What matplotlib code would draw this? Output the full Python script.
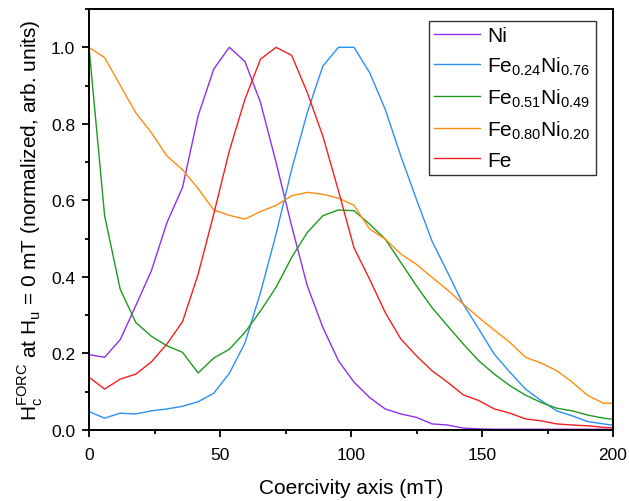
import numpy as np
import matplotlib
matplotlib.use("Agg")
import matplotlib.pyplot as plt
from matplotlib.ticker import MultipleLocator

plt.rcParams['font.family'] = ['Liberation Sans', 'DejaVu Sans']
plt.rcParams['mathtext.fontset'] = 'custom'
plt.rcParams['mathtext.rm'] = 'Liberation Sans'

# coercivity grid (mT)
field = np.round(np.arange(35) * 5.95, 2)

ni = [0.197, 0.19, 0.236, 0.325, 0.416, 0.542, 0.634, 0.821, 0.943, 1.0,
      0.963, 0.856, 0.699, 0.533, 0.377, 0.268, 0.181, 0.125, 0.085, 0.055,
      0.042, 0.033, 0.016, 0.013, 0.005, 0.003, 0.002, 0.002, 0.002, 0.002,
      0.002, 0.002, 0.002, 0.002, 0.002]
fe24 = [0.048, 0.031, 0.044, 0.042, 0.050, 0.055, 0.062, 0.074, 0.096, 0.148,
        0.227, 0.359, 0.512, 0.681, 0.829, 0.951, 1.0, 1.0, 0.934, 0.838,
        0.716, 0.603, 0.494, 0.412, 0.329, 0.264, 0.198, 0.151, 0.107, 0.077,
        0.050, 0.037, 0.022, 0.016, 0.010]
fe51 = [1.0, 0.560, 0.368, 0.281, 0.245, 0.220, 0.203, 0.149, 0.188, 0.211,
        0.255, 0.311, 0.373, 0.451, 0.516, 0.560, 0.575, 0.573, 0.538, 0.499,
        0.438, 0.377, 0.320, 0.272, 0.225, 0.181, 0.146, 0.116, 0.091, 0.072,
        0.057, 0.050, 0.039, 0.031, 0.026]
fe80 = [1.0, 0.973, 0.901, 0.829, 0.777, 0.716, 0.680, 0.631, 0.575, 0.561,
        0.551, 0.571, 0.587, 0.612, 0.621, 0.616, 0.606, 0.587, 0.525, 0.499,
        0.460, 0.433, 0.399, 0.366, 0.329, 0.294, 0.261, 0.229, 0.190, 0.175,
        0.155, 0.125, 0.090, 0.070, 0.070]
fe = [0.138, 0.107, 0.133, 0.146, 0.178, 0.225, 0.283, 0.407, 0.564, 0.729,
      0.864, 0.969, 1.0, 0.979, 0.882, 0.768, 0.625, 0.476, 0.394, 0.307,
      0.238, 0.194, 0.155, 0.125, 0.092, 0.077, 0.055, 0.044, 0.029, 0.024,
      0.016, 0.013, 0.011, 0.007, 0.005]

series = [
    (ni, 'Ni', '#8f2ff0'),
    (fe24, r'Fe$_\mathregular{0.24}$Ni$_\mathregular{0.76}$', '#2c8ff5'),
    (fe51, r'Fe$_\mathregular{0.51}$Ni$_\mathregular{0.49}$', '#1e9a1e'),
    (fe80, r'Fe$_\mathregular{0.80}$Ni$_\mathregular{0.20}$', '#ff8c10'),
    (fe, 'Fe', '#f51e1e'),
]

fig = plt.figure(figsize=(6.29, 5.02), dpi=100)
ax = fig.add_axes([0.1415, 0.1414, 0.8331, 0.8386])

for vals, label, color in series:
    ax.plot(field, vals, color=color, lw=1.0, label=label)

ax.set_xlim(0, 200)
ax.set_ylim(0, 1.1)
ax.xaxis.set_major_locator(MultipleLocator(50))
ax.xaxis.set_minor_locator(MultipleLocator(25))
ax.yaxis.set_major_locator(MultipleLocator(0.2))
ax.yaxis.set_minor_locator(MultipleLocator(0.1))
ax.yaxis.set_major_formatter(matplotlib.ticker.FormatStrFormatter('%.1f'))
ax.tick_params(which='major', direction='out', length=5, width=1.3, labelsize=12.5, pad=5)
ax.tick_params(which='minor', direction='out', length=2.8, width=1.3)
ax.tick_params(axis='x', which='major', pad=7.5)
for s in ax.spines.values():
    s.set_linewidth(1.4)

ax.set_xlabel('Coercivity axis (mT)', fontsize=15, labelpad=11)
ax.set_ylabel(r'H$_\mathregular{c}^\mathregular{FORC}$ at H$_\mathregular{u}$ = 0 mT (normalized, arb. units)',
              fontsize=15, labelpad=4)

leg = ax.legend(loc='upper right', fontsize=15, fancybox=False, edgecolor='#333333',
                framealpha=1, handlelength=2.2, borderpad=0.25, labelspacing=0.45,
                handletextpad=0.35, borderaxespad=0, bbox_to_anchor=(0.9676, 0.9715))
leg.get_frame().set_linewidth(1.0)

fig.savefig('out.png', dpi=100)
